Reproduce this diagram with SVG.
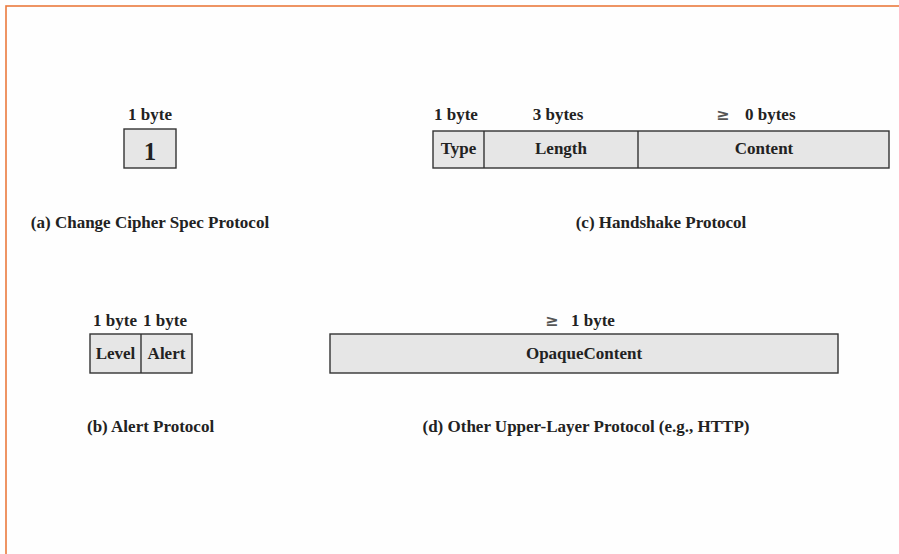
<svg xmlns="http://www.w3.org/2000/svg" width="899" height="554" viewBox="0 0 899 554">
  <style>
    text { font-family: "Liberation Serif", "Times New Roman", serif; font-weight: bold; font-size: 17px; fill: #222; }
    .mid { text-anchor: middle; }
    .ge { font-family: "DejaVu Sans", sans-serif; font-weight: bold; font-size: 16px; fill: #555; }
    .field { fill: #e6e6e6; stroke: #333; stroke-width: 1.4; }
    .div { stroke: #333; stroke-width: 1.4; }
  </style>
  <rect width="899" height="554" fill="#fefefe"/>
  <!-- page frame -->
  <rect x="6" y="6" width="900" height="560" fill="none" stroke="#ea7a3e" stroke-width="1.6"/>

  <!-- (a) Change Cipher Spec -->
  <g id="change-cipher-spec">
    <text class="mid" x="150" y="120">1 byte</text>
    <rect class="field" x="124" y="129" width="52" height="39"/>
    <text class="mid" x="150" y="160" style="font-size:25px">1</text>
    <text class="mid" x="150" y="228">(a) Change Cipher Spec Protocol</text>
  </g>

  <!-- (c) Handshake -->
  <g id="handshake">
    <text x="434" y="120">1 byte</text>
    <text class="mid" x="558" y="120">3 bytes</text>
    <text class="ge" x="716" y="120">≥</text>
    <text x="745" y="120">0 bytes</text>
    <rect class="field" x="433" y="131" width="456" height="37"/>
    <line class="div" x1="484" y1="131" x2="484" y2="168"/>
    <line class="div" x1="638" y1="131" x2="638" y2="168"/>
    <text class="mid" x="458.5" y="154">Type</text>
    <text class="mid" x="561" y="154">Length</text>
    <text class="mid" x="764" y="154">Content</text>
    <text class="mid" x="661" y="228">(c) Handshake Protocol</text>
  </g>

  <!-- (b) Alert -->
  <g id="alert">
    <text class="mid" x="115" y="326">1 byte</text>
    <text class="mid" x="165" y="326">1 byte</text>
    <rect class="field" x="90" y="334" width="102" height="39"/>
    <line class="div" x1="141" y1="334" x2="141" y2="373"/>
    <text class="mid" x="115.5" y="359">Level</text>
    <text class="mid" x="166.5" y="359">Alert</text>
    <text x="87" y="432">(b) Alert Protocol</text>
  </g>

  <!-- (d) Other upper-layer protocol -->
  <g id="upper-layer">
    <text class="ge" x="545" y="326">≥</text>
    <text x="571" y="326">1 byte</text>
    <rect class="field" x="330" y="334" width="508" height="39"/>
    <text class="mid" x="584" y="359">OpaqueContent</text>
    <text class="mid" x="586" y="432">(d) Other Upper-Layer Protocol (e.g., HTTP)</text>
  </g>

  <g id="connectors"/>
</svg>
